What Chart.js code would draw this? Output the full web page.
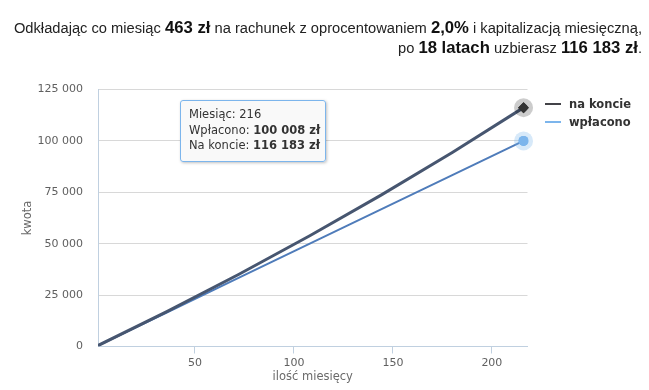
<!DOCTYPE html>
<html>
<head>
<meta charset="utf-8">
<script src="https://cdn.jsdelivr.net/npm/chart.js@4"></script>
<style>
  html, body { margin:0; padding:0; background:#fff; width:649px; height:390px; overflow:hidden; }
  #wrap { position:relative; width:649px; height:390px; }
  #c { position:absolute; left:0; top:0; }
  #title { position:absolute; right:7px; top:18px; text-align:right; font-family:"Liberation Sans", Arial, sans-serif; font-size:14.7px; line-height:20px; color:#222; white-space:nowrap; }
  #title b { font-size:16.7px; color:#111; }
  #legend { position:absolute; left:545px; top:95px; font-family:"DejaVu Sans", sans-serif; font-size:11.5px; font-weight:bold; color:#333; }
  #legend .row { height:18px; line-height:18px; white-space:nowrap; }
  #legend .sw { display:inline-block; width:16px; height:2px; vertical-align:middle; margin-right:8px; position:relative; top:-1px; }
  #tip { position:absolute; left:180px; top:100px; width:146px; height:62px; box-sizing:border-box; border:1px solid #7CB5EC; border-radius:3px; background:rgba(249,249,249,0.96); box-shadow:1px 1px 3px rgba(0,0,0,0.25); padding:6px 0 0 8px; font-family:"DejaVu Sans", sans-serif; font-size:11.5px; line-height:15.5px; color:#333; white-space:nowrap; }
</style>
</head>
<body>
<div id="wrap">
  <canvas id="c" width="649" height="390"></canvas>
  <div id="title"></div>
  <div id="legend"></div>
  <div id="tip"></div>
</div>
<script>
// ---- data ----
const months   = [1, 36, 72, 108, 144, 180, 216];
const naKoncie = [464, 17092, 35032, 53867, 73640, 94397, 116183];
const wplacono = [463, 16668, 33336, 50004, 66672, 83340, 100008];
const seriesNames = ['na koncie', 'wpłacono'];
const yTicks = [0, 25000, 50000, 75000, 100000, 125000];
const xTicks = [50, 100, 150, 200];
const monthlyDeposit = 463;
const rateLabel = '2,0%';
const years = 18;

function fmt(v) { return String(Math.round(v)).replace(/\B(?=(\d{3})+(?!\d))/g, ' '); }

const last = months.length - 1;
document.getElementById('title').innerHTML =
  'Odkładając co miesiąc <b>' + monthlyDeposit + ' zł</b> na rachunek z oprocentowaniem <b>' + rateLabel +
  '</b> i kapitalizacją miesięczną,<br>po <b>' + years + ' latach</b> uzbierasz <b>' + fmt(naKoncie[last]) + ' zł</b>.';

const legendColors = ['#434348', '#7CB5EC'];
document.getElementById('legend').innerHTML = seriesNames.map((n, i) =>
  '<div class="row"><span class="sw" style="background:' + legendColors[i] + '"></span>' + n + '</div>').join('');

document.getElementById('tip').innerHTML =
  'Miesiąc: ' + months[last] + '<br>Wpłacono: <b>' + fmt(wplacono[last]) + ' zł</b><br>Na koncie: <b>' + fmt(naKoncie[last]) + ' zł</b>';

const haloPlugin = {
  id: 'halo',
  afterDatasetsDraw(chart) {
    const ctx = chart.ctx;
    const halos = ['rgba(0,0,0,0.2)', 'rgba(124,181,236,0.3)'];
    for (let d = chart.data.datasets.length - 1; d >= 0; d--) {
      const meta = chart.getDatasetMeta(d);
      const el = meta.data[last];
      ctx.save();
      ctx.beginPath();
      ctx.arc(el.x, el.y, 9.5, 0, Math.PI * 2);
      ctx.fillStyle = halos[d];
      ctx.fill();
      ctx.restore();
      el.draw(ctx, chart.chartArea);
    }
  }
};

new Chart(document.getElementById('c'), {
  type: 'line',
  data: {
    datasets: [
      {
        label: seriesNames[0],
        data: months.map((m, i) => ({ x: m, y: naKoncie[i] })),
        borderColor: '#475670',
        borderWidth: 3,
        pointStyle: 'rectRot',
        pointRadius: c => c.dataIndex === last ? 5.5 : 0,
        pointBackgroundColor: '#333333',
        pointBorderColor: '#333333',
        pointBorderWidth: 0,
        tension: 0
      },
      {
        label: seriesNames[1],
        data: months.map((m, i) => ({ x: m, y: wplacono[i] })),
        borderColor: '#4F7CBA',
        borderWidth: 2,
        pointStyle: 'circle',
        pointRadius: c => c.dataIndex === last ? 5 : 0,
        pointBackgroundColor: '#7CB5EC',
        pointBorderColor: '#7CB5EC',
        pointBorderWidth: 0,
        tension: 0
      }
    ]
  },
  options: {
    responsive: false,
    animation: false,
    events: [],
    layout: { padding: { top: 89.5, right: 121.5, left: 0, bottom: 0 } },
    plugins: { legend: { display: false }, tooltip: { enabled: false } },
    scales: {
      x: {
        type: 'linear',
        min: 1,
        max: 218,
        afterFit: s => { s.height = 43.5; },
        afterBuildTicks: s => { s.ticks = xTicks.map(v => ({ value: v })); },
        grid: { drawOnChartArea: false, drawTicks: true, tickLength: 7, tickColor: '#C0D0E0' },
        border: { color: '#C0D0E0', width: 1 },
        ticks: { color: '#606060', font: { family: 'DejaVu Sans', size: 11 }, padding: 3, maxRotation: 0, callback: v => String(v) },
        title: { display: true, text: 'ilość miesięcy', color: '#6a6a6a', font: { family: 'DejaVu Sans', size: 11.5 }, padding: { top: 0, bottom: 6 } }
      },
      y: {
        min: 0,
        max: 125000,
        afterFit: s => { s.width = 98; },
        afterBuildTicks: s => { s.ticks = yTicks.map(v => ({ value: v })); },
        grid: { color: '#D8D8D8', drawTicks: false },
        border: { color: '#C0D0E0', width: 1 },
        ticks: { color: '#606060', font: { family: 'DejaVu Sans', size: 11 }, padding: 15, callback: v => fmt(v) },
        title: { display: true, text: 'kwota', color: '#6a6a6a', font: { family: 'DejaVu Sans', size: 11.5 }, padding: { top: 21, bottom: 0 } }
      }
    }
  },
  plugins: [haloPlugin]
});
</script>
</body>
</html>
